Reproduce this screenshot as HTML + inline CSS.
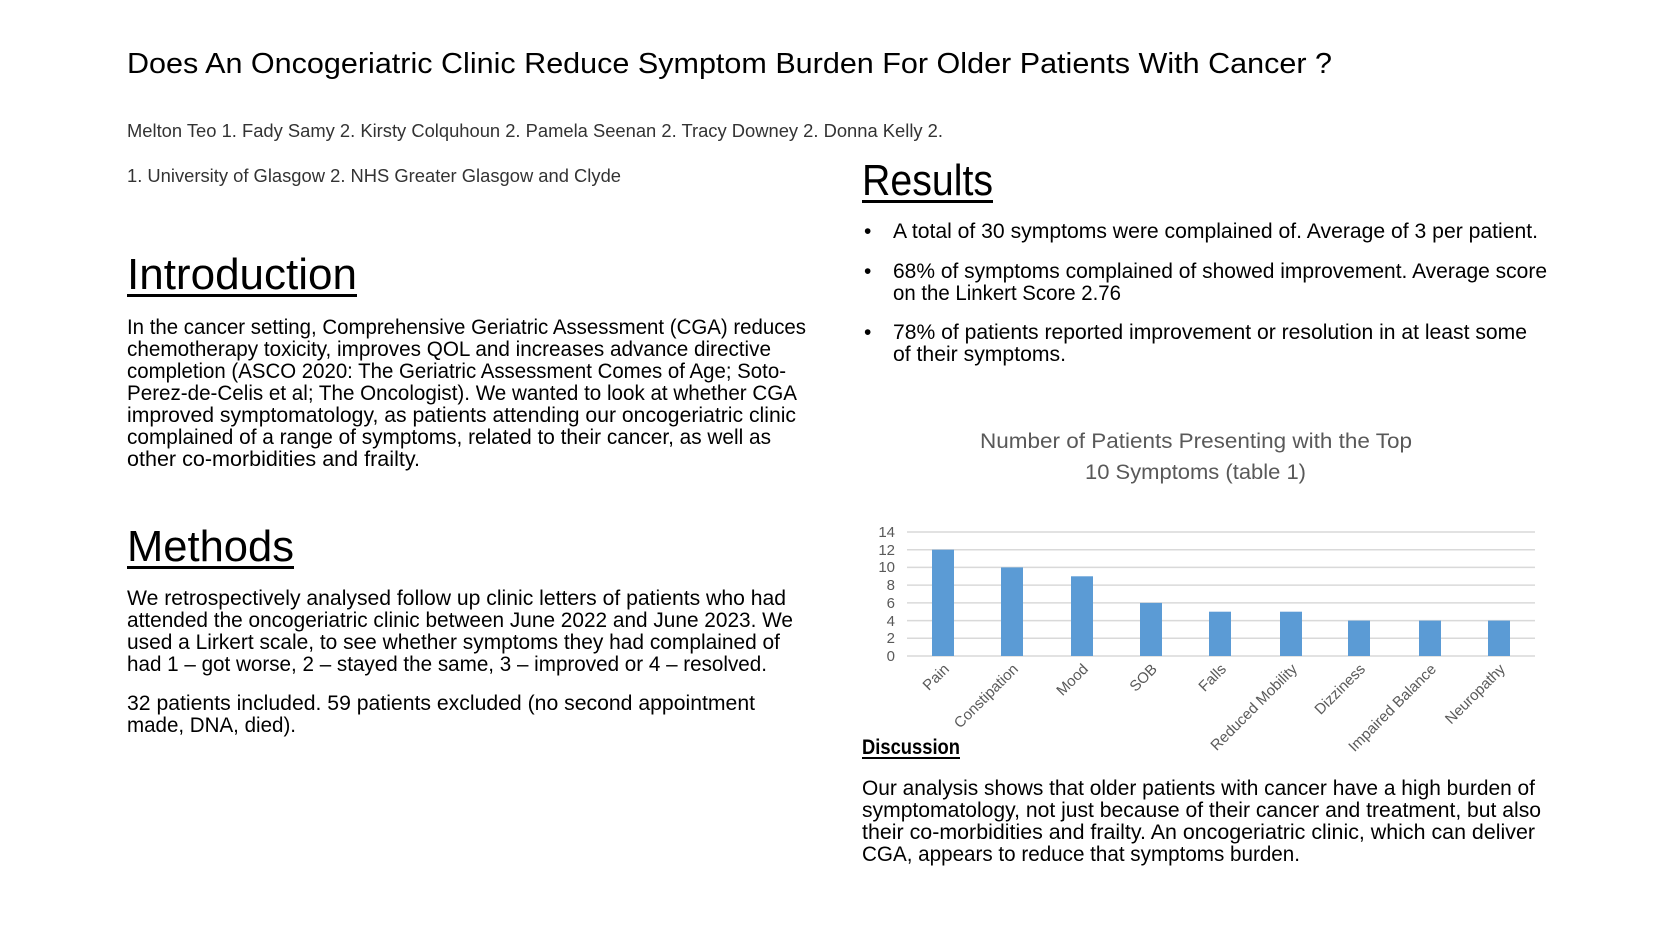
<!DOCTYPE html>
<html><head><meta charset="utf-8"><style>
html,body{margin:0;padding:0;background:#fff}
svg{display:block}
text{font-family:"Liberation Sans",sans-serif;fill:#000}
</style></head><body>
<svg width="1677" height="943" viewBox="0 0 1677 943" xmlns="http://www.w3.org/2000/svg">
<text x="127" y="73" font-size="29" textLength="1205" lengthAdjust="spacingAndGlyphs">Does An Oncogeriatric Clinic Reduce Symptom Burden For Older Patients With Cancer ?</text>
<text x="127" y="137" font-size="18" style="fill:#333" textLength="816" lengthAdjust="spacingAndGlyphs">Melton Teo 1. Fady Samy 2. Kirsty Colquhoun 2. Pamela Seenan 2. Tracy Downey 2. Donna Kelly 2.</text>
<text x="127" y="182" font-size="18" style="fill:#333" textLength="494" lengthAdjust="spacingAndGlyphs">1. University of Glasgow 2. NHS Greater Glasgow and Clyde</text>

<text x="127" y="289" font-size="44" textLength="230" lengthAdjust="spacingAndGlyphs">Introduction</text>
<rect x="127" y="294" width="230" height="3"/>
<g font-size="21">
<text x="127" y="334" textLength="679" lengthAdjust="spacingAndGlyphs">In the cancer setting, Comprehensive Geriatric Assessment (CGA) reduces</text>
<text x="127" y="356" textLength="644" lengthAdjust="spacingAndGlyphs">chemotherapy toxicity, improves QOL and increases advance directive</text>
<text x="127" y="378" textLength="659" lengthAdjust="spacingAndGlyphs">completion (ASCO 2020: The Geriatric Assessment Comes of Age; Soto-</text>
<text x="127" y="400" textLength="670" lengthAdjust="spacingAndGlyphs">Perez-de-Celis et al; The Oncologist). We wanted to look at whether CGA</text>
<text x="127" y="422" textLength="669" lengthAdjust="spacingAndGlyphs">improved symptomatology, as patients attending our oncogeriatric clinic</text>
<text x="127" y="444" textLength="644" lengthAdjust="spacingAndGlyphs">complained of a range of symptoms, related to their cancer, as well as</text>
<text x="127" y="466" textLength="293" lengthAdjust="spacingAndGlyphs">other co-morbidities and frailty.</text>
</g>

<text x="127" y="561" font-size="44" textLength="167" lengthAdjust="spacingAndGlyphs">Methods</text>
<rect x="127" y="566" width="167" height="3"/>
<g font-size="21">
<text x="127" y="605" textLength="659" lengthAdjust="spacingAndGlyphs">We retrospectively analysed follow up clinic letters of patients who had</text>
<text x="127" y="627" textLength="666" lengthAdjust="spacingAndGlyphs">attended the oncogeriatric clinic between June 2022 and June 2023. We</text>
<text x="127" y="649" textLength="653" lengthAdjust="spacingAndGlyphs">used a Lirkert scale, to see whether symptoms they had complained of</text>
<text x="127" y="671" textLength="640" lengthAdjust="spacingAndGlyphs">had 1 – got worse, 2 – stayed the same, 3 – improved or 4 – resolved.</text>
<text x="127" y="710" textLength="628" lengthAdjust="spacingAndGlyphs">32 patients included.  59 patients excluded (no second appointment</text>
<text x="127" y="732" textLength="169" lengthAdjust="spacingAndGlyphs">made, DNA, died).</text>
</g>

<text x="862" y="195" font-size="44" textLength="131" lengthAdjust="spacingAndGlyphs">Results</text>
<rect x="862" y="200" width="131" height="3"/>
<g font-size="21">
<text x="864" y="238">•</text>
<text x="893" y="238" textLength="645" lengthAdjust="spacingAndGlyphs">A total of 30 symptoms were complained of.  Average of 3 per patient.</text>
<text x="864" y="278">•</text>
<text x="893" y="278" textLength="654" lengthAdjust="spacingAndGlyphs">68% of symptoms complained of showed improvement.  Average score</text>
<text x="893" y="300" textLength="228" lengthAdjust="spacingAndGlyphs">on the Linkert Score 2.76</text>
<text x="864" y="339">•</text>
<text x="893" y="339" textLength="634" lengthAdjust="spacingAndGlyphs">78% of patients reported improvement or resolution in at least some</text>
<text x="893" y="361" textLength="173" lengthAdjust="spacingAndGlyphs">of their symptoms.</text>
</g>

<g font-size="21">
<text x="980" y="448" style="fill:#595959" textLength="432" lengthAdjust="spacingAndGlyphs">Number of Patients Presenting with the Top</text>
<text x="1085" y="479" style="fill:#595959" textLength="221" lengthAdjust="spacingAndGlyphs">10 Symptoms (table 1)</text>
</g>

<g stroke="#d9d9d9" stroke-width="1.5">
<line x1="907" y1="532" x2="1535" y2="532"/>
<line x1="907" y1="549.7" x2="1535" y2="549.7"/>
<line x1="907" y1="567.4" x2="1535" y2="567.4"/>
<line x1="907" y1="585.1" x2="1535" y2="585.1"/>
<line x1="907" y1="602.9" x2="1535" y2="602.9"/>
<line x1="907" y1="620.6" x2="1535" y2="620.6"/>
<line x1="907" y1="638.3" x2="1535" y2="638.3"/>
<line x1="907" y1="656" x2="1535" y2="656"/>
</g>
<g font-size="15" text-anchor="end">
<text x="895" y="537" style="fill:#595959">14</text>
<text x="895" y="555" style="fill:#595959">12</text>
<text x="895" y="572" style="fill:#595959">10</text>
<text x="895" y="590" style="fill:#595959">8</text>
<text x="895" y="608" style="fill:#595959">6</text>
<text x="895" y="626" style="fill:#595959">4</text>
<text x="895" y="643" style="fill:#595959">2</text>
<text x="895" y="661" style="fill:#595959">0</text>
</g>
<g fill="#5b9bd5">
<rect x="932" y="549.7" width="22" height="106.3"/>
<rect x="1001" y="567.4" width="22" height="88.6"/>
<rect x="1071" y="576.3" width="22" height="79.7"/>
<rect x="1140" y="602.9" width="22" height="53.1"/>
<rect x="1209" y="611.7" width="22" height="44.3"/>
<rect x="1280" y="611.7" width="22" height="44.3"/>
<rect x="1348" y="620.6" width="22" height="35.4"/>
<rect x="1419" y="620.6" width="22" height="35.4"/>
<rect x="1488" y="620.6" width="22" height="35.4"/>
</g>
<g font-size="15" text-anchor="end">
<text transform="translate(950,670) rotate(-45)" style="fill:#595959">Pain</text>
<text transform="translate(1019,670) rotate(-45)" style="fill:#595959">Constipation</text>
<text transform="translate(1089,670) rotate(-45)" style="fill:#595959">Mood</text>
<text transform="translate(1158,670) rotate(-45)" style="fill:#595959">SOB</text>
<text transform="translate(1227,670) rotate(-45)" style="fill:#595959">Falls</text>
<text transform="translate(1298,670) rotate(-45)" style="fill:#595959">Reduced Mobility</text>
<text transform="translate(1366,670) rotate(-45)" style="fill:#595959">Dizziness</text>
<text transform="translate(1437,670) rotate(-45)" style="fill:#595959">Impaired Balance</text>
<text transform="translate(1506,670) rotate(-45)" style="fill:#595959">Neuropathy</text>
</g>

<text x="862" y="754" font-size="21" font-weight="bold" textLength="98" lengthAdjust="spacingAndGlyphs">Discussion</text>
<rect x="862" y="757" width="98" height="2"/>
<g font-size="21">
<text x="862" y="795" textLength="673" lengthAdjust="spacingAndGlyphs">Our analysis shows that older patients with cancer have a high burden of</text>
<text x="862" y="817" textLength="679" lengthAdjust="spacingAndGlyphs">symptomatology, not just because of their cancer and treatment, but also</text>
<text x="862" y="839" textLength="673" lengthAdjust="spacingAndGlyphs">their co-morbidities and frailty.  An oncogeriatric clinic, which can deliver</text>
<text x="862" y="861" textLength="438" lengthAdjust="spacingAndGlyphs">CGA, appears to reduce that symptoms burden.</text>
</g>
</svg>
</body></html>
